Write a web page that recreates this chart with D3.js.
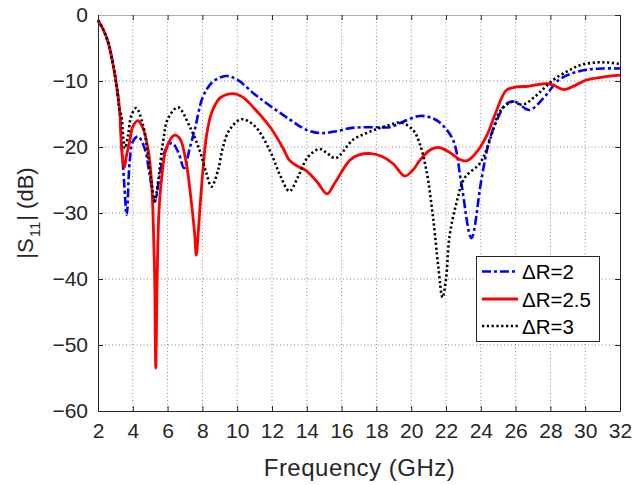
<!DOCTYPE html>
<html><head><meta charset="utf-8">
<script src="https://cdn.jsdelivr.net/npm/d3@7/dist/d3.min.js"></script>
<style>body{margin:0;background:#fff}svg{display:block}</style>
</head><body><svg id="c" width="641" height="485"></svg>
<script>
const xTicks = [2,4,6,8,10,12,14,16,18,20,22,24,26,28,30,32];
const yTicks = [0,-10,-20,-30,-40,-50,-60];
const legendLabels = ["\u0394R=2","\u0394R=2.5","\u0394R=3"];

const freqR2 = [2.0,2.3,2.6,2.9,3.1,3.25,3.34,3.5,3.65,3.82,4.0,4.3,4.68,4.97,5.26,5.55,5.83,6.25,6.6,6.95,7.27,7.56,8.03,8.6,9.37,10.0,11.0,11.7,13.0,13.98,14.84,15.7,16.6,18.0,18.76,19.5,20.49,21.2,21.64,22.4,22.88,23.46,24.03,24.5,25.0,25.4,25.86,26.2,26.8,27.6,28.5,29.3,30.07,31.0,32.0];
const s11R2  = [-0.8,-2.2,-4.3,-8.0,-11.3,-14.6,-18.7,-25.3,-30.3,-22.2,-19.2,-18.4,-20.2,-24.2,-28.3,-24.2,-20.7,-19.4,-20.7,-23.2,-20.2,-17.4,-12.4,-10.1,-9.24,-9.8,-12.0,-13.4,-15.8,-17.4,-17.9,-17.6,-17.1,-17.0,-17.0,-16.2,-15.3,-15.6,-16.3,-18.9,-25.5,-33.8,-25.0,-18.9,-15.5,-13.6,-13.1,-13.5,-14.4,-12.6,-9.8,-8.8,-8.3,-8.1,-8.1];

const freqR25 = [2.0,2.3,2.6,2.9,3.1,3.25,3.34,3.45,3.53,3.62,3.82,4.0,4.3,4.59,4.87,5.07,5.16,5.26,5.32,5.4,5.5,5.64,5.93,6.4,6.7,7.08,7.37,7.55,7.65,7.76,7.88,8.03,8.23,8.52,9.0,9.76,10.3,11.0,11.87,12.6,13.0,13.4,13.98,14.6,15.16,15.6,16.47,17.0,17.7,18.3,18.95,19.63,20.1,20.5,21.06,21.55,22.2,22.8,23.17,23.6,24.32,24.9,25.47,26.05,26.7,27.4,27.86,28.3,28.8,29.4,30.07,31.0,32.0];
const s11R25  = [-0.8,-2.2,-4.3,-8.0,-11.3,-14.6,-19.5,-22.5,-23.0,-21.5,-19.2,-16.9,-16.0,-17.2,-20.2,-25.0,-30.0,-40.2,-53.5,-40.0,-30.0,-25.2,-20.2,-18.2,-18.7,-22.5,-28.5,-33.0,-36.4,-33.0,-28.5,-23.5,-18.4,-14.9,-12.6,-11.9,-12.4,-14.2,-16.9,-20.0,-22.0,-22.8,-23.6,-25.3,-27.1,-25.5,-22.0,-21.2,-21.0,-21.4,-22.5,-24.4,-23.5,-22.0,-20.5,-20.05,-20.8,-21.9,-22.1,-21.3,-18.4,-14.5,-11.4,-10.9,-10.8,-10.5,-10.4,-10.8,-11.3,-10.7,-9.85,-9.4,-9.1];

const freqR3 = [2.0,2.3,2.6,2.9,3.1,3.25,3.34,3.45,3.55,3.73,3.92,4.2,4.59,4.87,5.07,5.26,5.45,5.74,6.02,6.6,7.27,7.84,8.23,8.52,8.9,9.18,9.56,10.24,11.0,11.87,12.5,13.0,13.5,14.07,14.74,15.2,15.65,16.66,17.42,18.0,18.7,19.4,20.1,20.49,20.87,21.25,21.55,21.8,22.0,22.2,22.6,23.07,23.94,24.32,24.7,25.1,25.86,26.4,27.1,28.15,29.0,29.7,30.6,31.3,32.0];
const s11R3  = [-0.8,-2.2,-4.3,-8.0,-11.3,-14.6,-15.2,-18.5,-20.2,-18.2,-15.2,-14.1,-16.7,-21.2,-25.3,-28.2,-25.3,-19.2,-15.7,-14.0,-16.9,-20.5,-24.0,-26.0,-23.5,-20.0,-17.4,-15.8,-16.8,-20.5,-24.5,-26.7,-24.5,-21.5,-20.3,-21.0,-21.7,-18.9,-17.9,-17.3,-16.7,-16.3,-17.4,-19.5,-23.5,-30.5,-38.0,-42.8,-40.0,-33.6,-28.5,-24.7,-22.5,-20.5,-17.5,-14.6,-13.1,-13.6,-12.4,-9.85,-8.5,-7.6,-7.2,-7.2,-7.4];

const FONT = "'Liberation Sans', Arial, Helvetica, sans-serif";
const svg = d3.select("#c");
const L = 98, R = 620, T = 15, B = 411;
const x = d3.scaleLinear().domain([2,32]).range([L,R]);
const y = d3.scaleLinear().domain([-60,0]).range([B,T]);

// grid
const grid = svg.append("g");
grid.selectAll("line.gx").data(xTicks.slice(1,-1)).join("line")
  .attr("x1",d=>x(d)).attr("x2",d=>x(d)).attr("y1",T).attr("y2",B)
  .attr("stroke","#8a8a8a").attr("stroke-width",1).attr("stroke-dasharray","1,2.5");
grid.selectAll("line.gy").data(yTicks.slice(1,-1)).join("line")
  .attr("y1",d=>y(d)).attr("y2",d=>y(d)).attr("x1",L).attr("x2",R)
  .attr("stroke","#8a8a8a").attr("stroke-width",1).attr("stroke-dasharray","1,2.5");

// curves
const line = d3.line().x(d=>x(d[0])).y(d=>y(d[1])).curve(d3.curveCatmullRom.alpha(0.5));
const series = [
  {f:freqR2, v:s11R2, color:"#0000ff", dash:"9,3,3,3", w:2.6},
  {f:freqR25, v:s11R25, color:"#ff0000", dash:null, w:2.8},
  {f:freqR3, v:s11R3, color:"#000000", dash:"2.2,2.6", w:2.6}
];
const plot = svg.append("g");
series.forEach(s=>{
  const pts = s.f.map((f,i)=>[f,s.v[i]]);
  plot.append("path").attr("d",line(pts)).attr("fill","none")
    .attr("stroke",s.color).attr("stroke-width",s.w)
    .attr("stroke-dasharray",s.dash).attr("stroke-linejoin","round");
});

// axes
const ax = svg.append("g").attr("font-family",FONT);
const xAxis = d3.axisBottom(x).tickValues(xTicks).tickSizeInner(-5).tickSizeOuter(0).tickPadding(12);
const gx = ax.append("g").attr("transform",`translate(0,${B})`).call(xAxis);
const yAxis = d3.axisLeft(y).tickValues(yTicks).tickSizeInner(-5).tickSizeOuter(0).tickPadding(10);
const gy = ax.append("g").attr("transform",`translate(${L},0)`).call(yAxis);
[gx,gy].forEach(g=>{
  g.select(".domain").attr("stroke","#262626");
  g.selectAll(".tick line").attr("stroke","#262626");
  g.selectAll(".tick text").attr("fill","#262626").attr("font-size",21).attr("font-family",FONT);
});
// top & right ticks
const xTop = d3.axisTop(x).tickValues(xTicks).tickSizeInner(-5).tickSizeOuter(0).tickFormat("");
const gt = ax.append("g").attr("transform",`translate(0,${T})`).call(xTop);
gt.select(".domain").attr("stroke","#b0b0b0");
gt.selectAll(".tick line").attr("stroke","#262626");
const yRight = d3.axisRight(y).tickValues(yTicks).tickSizeInner(-5).tickSizeOuter(0).tickFormat("");
const gr = ax.append("g").attr("transform",`translate(${R},0)`).call(yRight);
gr.select(".domain").attr("stroke","#262626");
gr.selectAll(".tick line").attr("stroke","#262626");

// axis labels
svg.append("text").attr("x",(L+R)/2+0.5).attr("y",476).attr("text-anchor","middle")
  .attr("font-family",FONT).attr("font-size",24).attr("letter-spacing",0.5).attr("fill","#262626").text("Frequency (GHz)");
const yl = svg.append("text").attr("transform",`translate(33,${(T+B)/2}) rotate(-90)`)
  .attr("text-anchor","middle").attr("font-family",FONT).attr("font-size",22).attr("fill","#262626");
yl.append("tspan").text("|S");
yl.append("tspan").attr("font-size",15).attr("dy",7).attr("dx",1).text("11");
yl.append("tspan").attr("dy",-7).attr("dx",1).text("| (dB)");

// legend
const lg = svg.append("g").attr("font-family",FONT);
lg.append("rect").attr("x",476.5).attr("y",256.5).attr("width",123).attr("height",85)
  .attr("fill","#fff").attr("stroke","#262626").attr("stroke-width",1);
const rowY = [271.5,299,326];
series.forEach((s,i)=>{
  lg.append("line").attr("x1",482).attr("x2",518).attr("y1",rowY[i]).attr("y2",rowY[i])
    .attr("stroke",s.color).attr("stroke-width",s.w).attr("stroke-dasharray",s.dash);
  lg.append("text").attr("x",522).attr("y",rowY[i]+7.5).attr("font-size",20.5).attr("fill","#000")
    .text(legendLabels[i]);
});
</script></body></html>
